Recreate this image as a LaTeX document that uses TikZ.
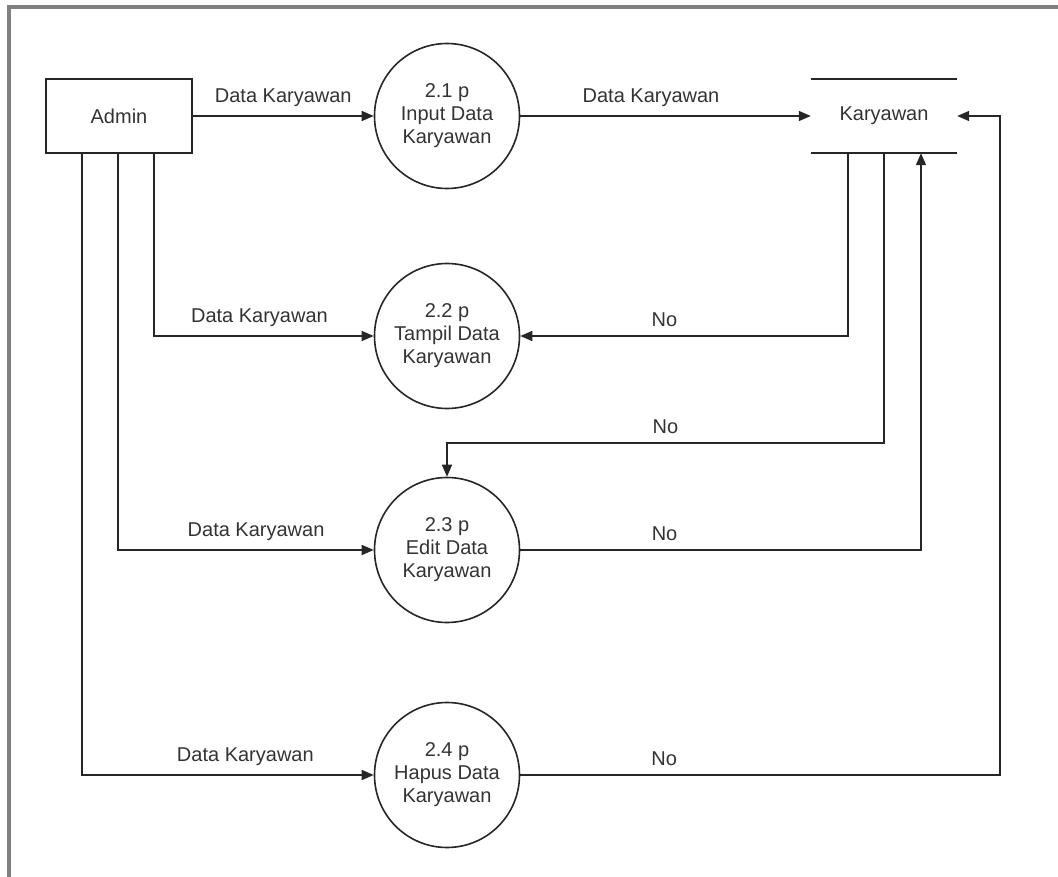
\documentclass[tikz,border=0pt]{standalone}
\usepackage{fontspec}
\setmainfont{Liberation Sans}
\usetikzlibrary{arrows.meta,positioning,calc}

\begin{document}
\begin{tikzpicture}[%
    x=1pt,y=-1pt,%
    every node/.style={font=\fontsize{20}{23}\selectfont, text=black!80},%
    line/.style={draw=black!85, line width=1.6pt},%
    flow/.style={line, -{Triangle[length=12pt,width=10pt]}},%
    proc/.style={circle, line, minimum size=145pt, inner sep=0pt, align=center},%
    ext/.style={rectangle, line, minimum width=146pt, minimum height=74pt},%
    datastore/.style={minimum width=146pt, minimum height=74pt},%
    lbl/.style={above=5pt}%
  ]
  \useasboundingbox (0,0) rectangle (1058,877);

  %
  % Positions
  %
  \pgfmathsetmacro{\xp}{447};%
  \pgfmathsetmacro{\xr}{1000};%
  \pgfmathsetmacro{\ya}{116};%
  \pgfmathsetmacro{\yb}{336};%
  \pgfmathsetmacro{\yc}{550};%
  \pgfmathsetmacro{\yd}{775};%
  \pgfmathsetmacro{\yt}{443};%

  % Cadre
  \draw[gray, line width=3.5pt] (9,877) -- (9,7) -- (1058,7);

  %
  % Entites et proses
  %
  \node[ext] (admin) at (119,\ya) {Admin};
  \node[proc] (p21) at (\xp,\ya) {2.1 p\\Input Data\\Karyawan};
  \node[proc] (p22) at (\xp,\yb) {2.2 p\\Tampil Data\\Karyawan};
  \node[proc] (p23) at (\xp,\yc) {2.3 p\\Edit Data\\Karyawan};
  \node[proc] (p24) at (\xp,\yd) {2.4 p\\Hapus Data\\Karyawan};

  % Data store
  \node[datastore] (karyawan) at (884,\ya) {Karyawan};
  \draw[line] (karyawan.north west) -- (karyawan.north east);
  \draw[line] (karyawan.south west) -- (karyawan.south east);

  % Titik cabang
  \coordinate (a1) at ($(admin.south)+(-37,0)$);
  \coordinate (a2) at ($(admin.south)+(-1,0)$);
  \coordinate (a3) at ($(admin.south)+(35,0)$);
  \coordinate (k1) at ($(karyawan.south)+(-36,0)$);
  \coordinate (k2) at (karyawan.south);
  \coordinate (k3) at ($(karyawan.south)+(37,0)$);
  \coordinate (t23) at (\xp,\yt);
  \coordinate (r) at (\xr,\ya);

  %
  % Aliran data
  %
  % Input
  \draw[flow] (admin.east) -- (p21.west) node[lbl, midway] {Data Karyawan};
  \draw[flow] (p21.east) -- (karyawan.west) node[lbl, pos=0.45] {Data Karyawan};

  % Tampil
  \draw[flow] (a3) |- (p22.west) node[lbl, pos=0.74] {Data Karyawan};
  \draw[flow] (k1) |- (p22.east) node[lbl, pos=0.78] {No};

  % Edit
  \draw[flow] (a2) |- (p23.west) node[lbl, pos=0.77] {Data Karyawan};
  \draw[flow] (k2) |- (t23) node[lbl, pos=0.75] {No} -- (p23.north);
  \draw[flow] (p23.east) -| (k3) node[lbl, pos=0.18] {No};

  % Hapus
  \draw[flow] (a1) |- (p24.west) node[lbl, pos=0.78] {Data Karyawan};
  \draw[flow] (p24.east) -| (r) node[lbl, pos=0.15] {No} -- (karyawan.east);

\end{tikzpicture}
\end{document}
